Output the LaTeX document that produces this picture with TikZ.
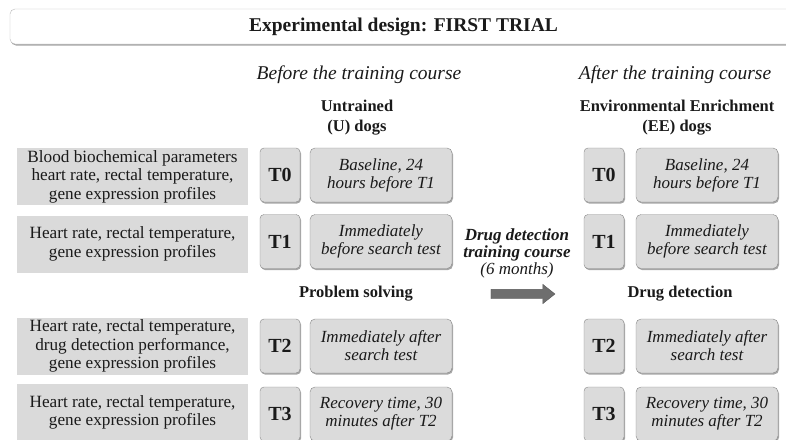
\documentclass[tikz,border=0pt]{standalone}
\usepackage{fontspec}
\setmainfont{Liberation Serif}
\usetikzlibrary{shapes.arrows,shadows}
\newcommand\myfs[2]{\fontsize{#1}{#2}\selectfont}
\definecolor{paramgray}{HTML}{DADADA}
\definecolor{boxgray}{HTML}{DBDBDB}
\definecolor{bordergray}{HTML}{888888}
\definecolor{arrowgray}{HTML}{6E6E6E}
\definecolor{txt}{HTML}{1A1A1A}
\tikzset{
  shadowed/.style={drop shadow={shadow xshift=1pt,shadow yshift=-1.5pt,opacity=.35,fill=black}},
  param/.style={fill=paramgray, minimum width=231, minimum height=57, inner sep=0,
    align=center, text=txt, font=\myfs{17.2}{18.5}},
  tbox/.style={rounded corners=4, draw=bordergray, fill=boxgray, minimum width=40,
    minimum height=54, inner sep=0, text=txt, font=\bfseries\myfs{20}{22}, shadowed},
  ibox/.style={rounded corners=5, draw=bordergray, fill=boxgray, minimum width=142,
    minimum height=54, inner sep=0, align=center, text=txt, font=\itshape\myfs{17}{18}, shadowed},
  header/.style={text=txt, font=\itshape\myfs{19.5}{22}},
  group/.style={text=txt, align=center, font=\bfseries\myfs{16.5}{20}},
}
\begin{document}
\begin{tikzpicture}[x=1pt,y=-1pt]
\clip (0,0) rectangle (786,439);
\fill[white] (0,0) rectangle (786,439);
% title
\node[rounded corners=5, draw=gray!55, fill=white, minimum width=787, minimum height=35,
  inner sep=0, text=txt, font=\bfseries\myfs{19.5}{22}, shadowed] (title) at (403.5,26.5)
  {Experimental design: FIRST TRIAL};
% headers
\node[header] (before) at (359,75) {Before the training course};
\node[header] (after) at (675,75) {After the training course};
\node[group] (ugroup) at (357,118) {Untrained\\(U) dogs};
\node[group] (eegroup) at (677,118) {Environmental Enrichment\\(EE) dogs};
% left parameter boxes
\node[param] (p0) at (132.5,176.5) {Blood biochemical parameters\\heart rate, rectal temperature,\\gene expression profiles};
\node[param] (p1) at (132.5,244) {Heart rate, rectal temperature,\\gene expression profiles};
\node[param] (p2) at (132.5,346) {Heart rate, rectal temperature,\\drug detection performance,\\gene expression profiles};
\node[param] (p3) at (132.5,412.5) {Heart rate, rectal temperature,\\gene expression profiles};
% before column
\node[tbox] (ut0) at (280,175) {T0};
\node[ibox] (ui0) at (381,175) {Baseline, 24\\hours before T1};
\node[tbox] (ut1) at (280,241.5) {T1};
\node[ibox] (ui1) at (381,241.5) {Immediately\\before search test};
\node[tbox] (ut2) at (280,346) {T2};
\node[ibox] (ui2) at (381,346) {Immediately after\\search test};
\node[tbox] (ut3) at (280,414) {T3};
\node[ibox] (ui3) at (381,414) {Recovery time, 30\\minutes after T2};
% after column
\node[tbox] (et0) at (604,175) {T0};
\node[ibox] (ei0) at (707,175) {Baseline, 24\\hours before T1};
\node[tbox] (et1) at (604,241.5) {T1};
\node[ibox] (ei1) at (707,241.5) {Immediately\\before search test};
\node[tbox] (et2) at (604,346) {T2};
\node[ibox] (ei2) at (707,346) {Immediately after\\search test};
\node[tbox] (et3) at (604,414) {T3};
\node[ibox] (ei3) at (707,414) {Recovery time, 30\\minutes after T2};
% phase labels
\node[group] (ps) at (356,294) {Problem solving};
\node[group] (dd) at (680,294) {Drug detection};
% middle
\node[align=center, text=txt, font=\itshape\myfs{17}{17}] (course) at (517,253)
  {\textbf{Drug detection}\\\textbf{training course}\\(6 months)};
\node[single arrow, fill=arrowgray, draw=arrowgray!80!black, line width=0.4pt,
  minimum height=64, inner xsep=0pt, inner ysep=4.5pt, single arrow head extend=5pt,
  single arrow tip angle=77] (arrow) at (520,294) {};
\end{tikzpicture}
\end{document}
